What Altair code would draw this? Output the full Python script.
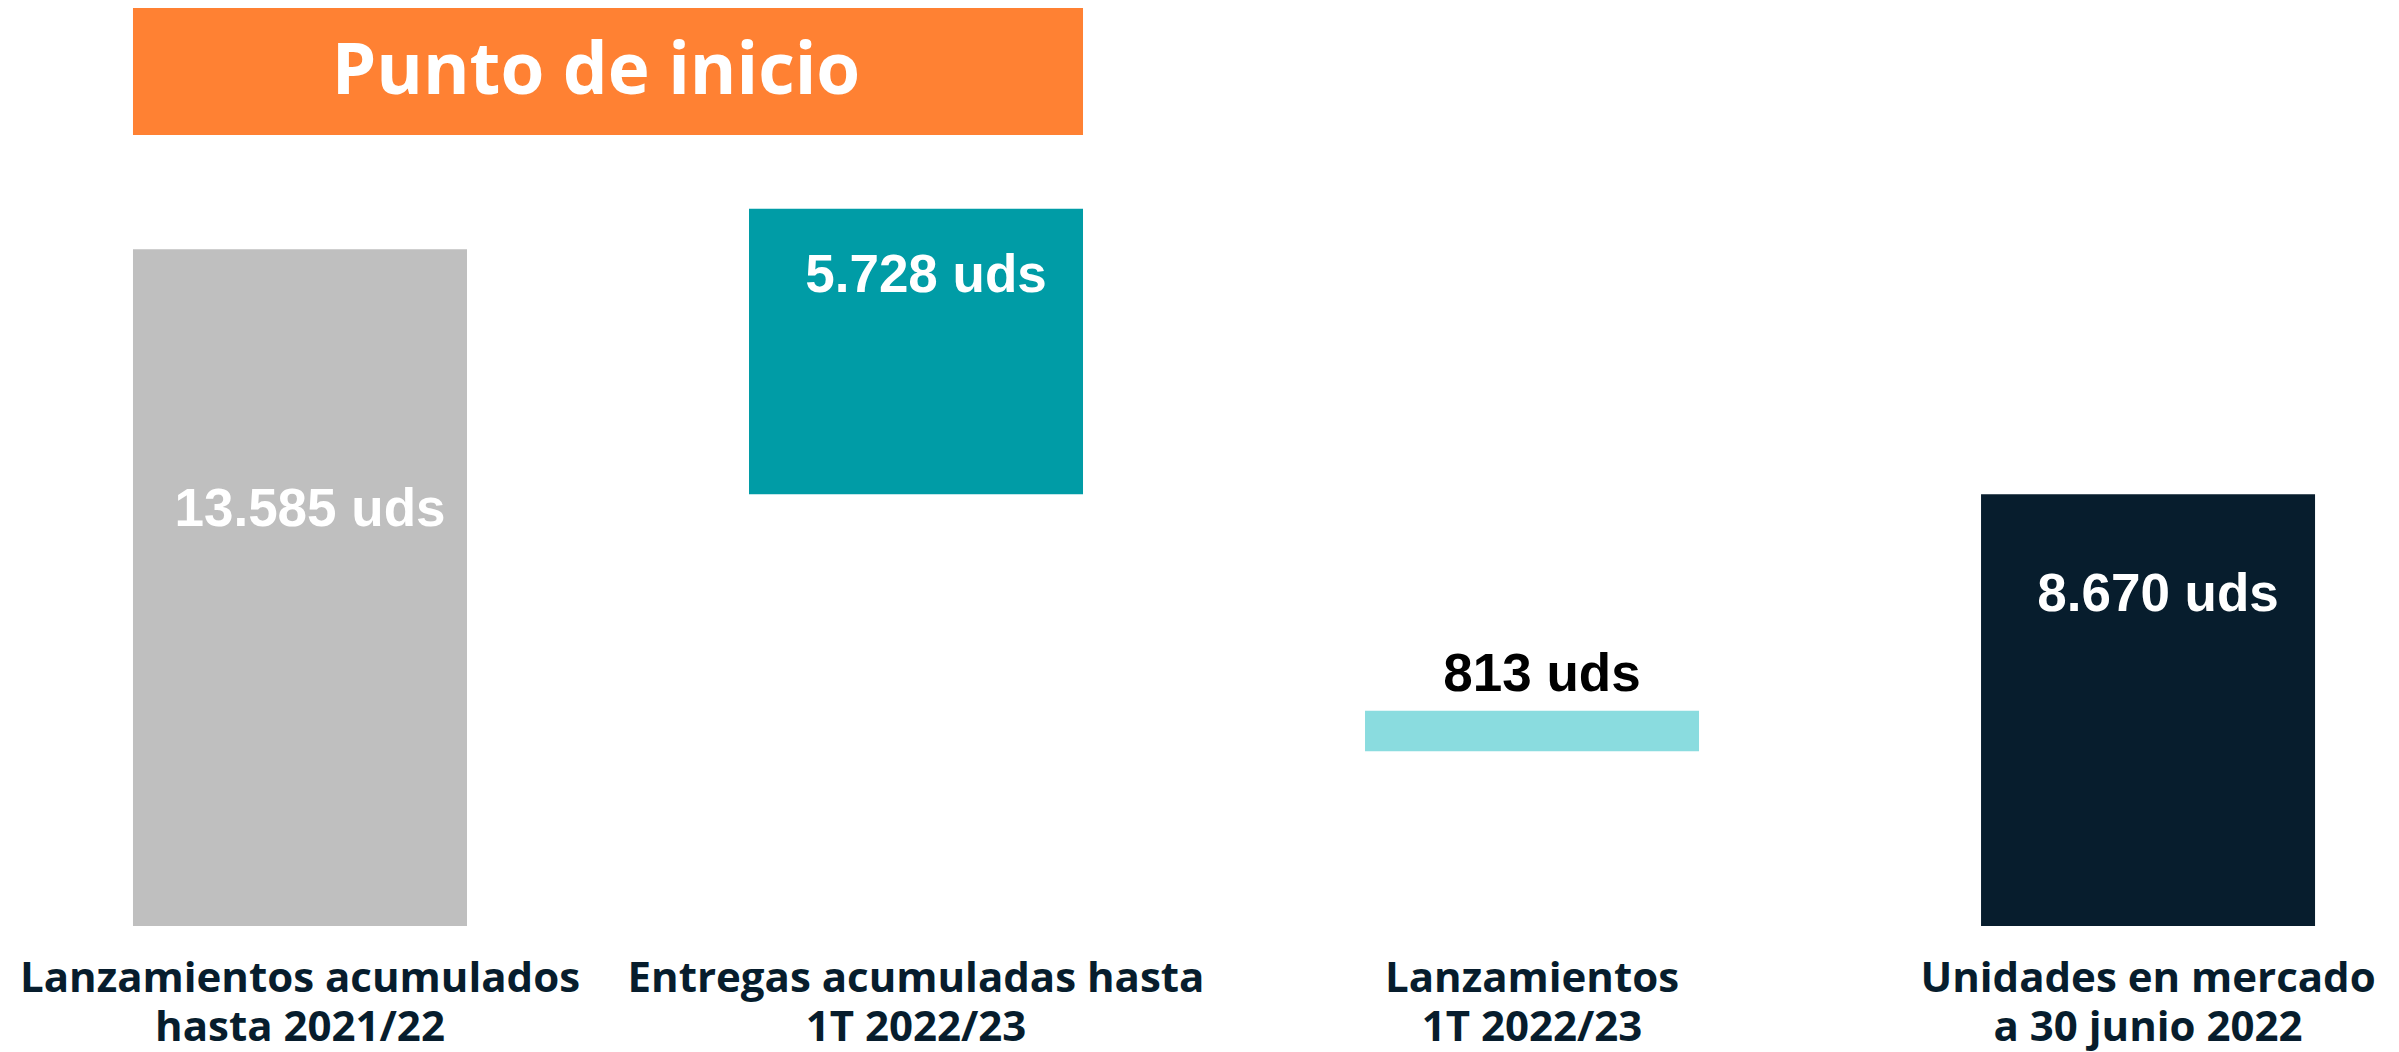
import altair as alt
import pandas as pd

# ---- data ----
categories = [
    "Lanzamientos acumulados|hasta 2021/22",
    "Entregas acumuladas hasta|1T 2022/23",
    "Lanzamientos|1T 2022/23",
    "Unidades en mercado|a 30 junio 2022",
]
values = [13585, 5728, 813, 8670]          # bar heights (units)
bases = [0, 8670, 3510, 0]                 # where each bar starts (units)
value_labels = ["13.585 uds", "5.728 uds", "813 uds", "8.670 uds"]
label_anchor = [8353, 13052, 5040, 6647]   # label height (units)
banner_text = "Punto de inicio"

# ---- styles ----
bar_colors = ["#bfbfbf", "#009ca6", "#8adcdf", "#071d2d"]
label_colors = ["#ffffff", "#ffffff", "#000000", "#ffffff"]
navy = "#071d2d"

df = pd.DataFrame({
    "cat": categories,
    "base": bases,
    "top": [b + v for b, v in zip(bases, values)],
    "label": value_labels,
    "anchor": label_anchor,
})
banner_df = pd.DataFrame({"start": [categories[0]], "end": [categories[1]], "text": [banner_text]})

xscale = alt.Scale(domain=categories, paddingInner=0.4578, paddingOuter=0.1631, align=0.622)
yscale = alt.Scale(domain=[0, 18430], nice=False, zero=True)

x_axis = alt.Axis(
    title=None,
    labelExpr="split(datum.label, '|')",
    labelFont="Open Sans",
    labelFontSize=42,
    labelFontWeight="bold",
    labelColor=navy,
    labelLineHeight=49,
    labelPadding=32,
    labelAngle=0,
    labelAlign="center",
    labelBaseline="top",
    labelLimit=1000,
    labelOverlap=False,
    ticks=False,
    tickSize=0,
    domain=False,
    grid=False,
)

bars = alt.Chart(df).mark_bar().encode(
    x=alt.X("cat:N", scale=xscale, axis=x_axis),
    y=alt.Y("top:Q", scale=yscale, axis=None),
    y2="base:Q",
    color=alt.Color("cat:N",
                    scale=alt.Scale(domain=categories, range=bar_colors), legend=None),
)

labels = alt.Chart(df).mark_text(
    font="Liberation Sans", fontWeight="bold", fontSize=53,
    align="center", baseline="middle", dx=10,
).encode(
    x=alt.X("cat:N", scale=xscale),
    y=alt.Y("anchor:Q", scale=yscale),
    text="label:N",
    color=alt.Color("cat:N",
                    scale=alt.Scale(domain=categories, range=label_colors), legend=None),
)

banner = alt.Chart(banner_df).mark_rect(color="#ff8133").encode(
    x=alt.X("start:N", scale=xscale, bandPosition=0),
    x2=alt.X2("end", bandPosition=1),
    y=alt.value(0),
    y2=alt.value(127),
)

banner_txt = alt.Chart(banner_df).mark_text(
    font="Open Sans", fontWeight="bold", fontSize=71, color="#ffffff",
    align="center", baseline="middle",
).encode(
    x=alt.value(588),
    y=alt.value(65),
    text="text:N",
)

chart = alt.layer(bars, labels, banner, banner_txt).resolve_scale(color="independent").properties(
    width=2383,
    height=918,
    padding={"left": 0, "top": 0, "right": 0, "bottom": 126},
    autosize=alt.AutoSizeParams(type="none"),
    background="#ffffff",
).configure_view(stroke=None)

chart.save("out.html", embed_options={"renderer": "svg", "actions": False})
